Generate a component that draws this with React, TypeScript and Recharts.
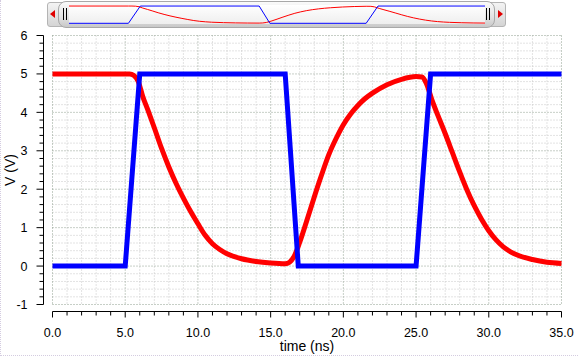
import React from 'react';
import { LineChart, Line, XAxis, YAxis, CartesianGrid } from 'recharts';

// red trace (output node)
const redTime = [0, 5.0, 5.3, 5.6, 5.9, 6.2, 6.6, 7.0, 7.5, 8.0, 8.5, 9.0, 9.5, 10.0, 10.5, 11.0, 11.5, 12.0, 13.0, 14.0, 15.0, 16.0, 16.3, 16.6, 17.0, 17.5, 18.0, 18.5, 19.0, 19.5, 20.0, 20.5, 21.0, 21.5, 22.0, 23.0, 24.0, 25.0, 25.4, 25.7, 26.1, 26.5, 27.0, 27.5, 28.0, 28.5, 29.0, 29.5, 30.0, 30.5, 31.0, 31.5, 32.0, 33.0, 34.0, 35.0];
const redVolts = [5.0, 5.0, 5.0, 4.96, 4.8, 4.42, 4.02, 3.6, 3.06, 2.58, 2.15, 1.77, 1.42, 1.1, 0.8, 0.58, 0.43, 0.32, 0.19, 0.12, 0.08, 0.06, 0.1, 0.24, 0.62, 1.2, 1.8, 2.37, 2.9, 3.32, 3.68, 3.96, 4.18, 4.36, 4.5, 4.72, 4.86, 4.93, 4.92, 4.76, 4.31, 3.92, 3.45, 2.95, 2.45, 1.98, 1.57, 1.22, 0.92, 0.68, 0.5, 0.37, 0.28, 0.17, 0.1, 0.07];

// blue trace (input pulse)
const blueTime = [0, 5.0, 6.0, 16.0, 16.9, 25.0, 26.0, 35.0];
const blueVolts = [0, 0, 5, 5, 0, 0, 5, 5];

const xMajor = [0, 5, 10, 15, 20, 25, 30, 35];
const yMajor = [-1, 0, 1, 2, 3, 4, 5, 6];

const xTicks: number[] = [];
for (let i = 0; i <= 35; i++) xTicks.push(i);
const yTicks: number[] = [];
for (let i = -10; i <= 60; i += 2) yTicks.push(i / 10);

const xMinor = xTicks.filter((v) => !xMajor.includes(v));
const yMinor = yTicks.filter((v) => !yMajor.includes(v));

const redData = redTime.map((t, i) => ({ t, v: redVolts[i] }));
const blueData = blueTime.map((t, i) => ({ t, v: blueVolts[i] }));

const FONT = '"Liberation Sans", Arial, sans-serif';

const YTick = ({ x, y, payload }: any) => {
  const v = payload.value;
  const major = yMajor.includes(v);
  const ax = x - 9;
  return (
    <g>
      <line x1={ax - (major ? 7 : 4)} x2={ax} y1={y} y2={y} stroke="#000" />
      {major && (
        <text x={ax - 16} y={y} dy="0.36em" textAnchor="end" fontSize={12.5} fontFamily={FONT} fill="#000">
          {v}
        </text>
      )}
    </g>
  );
};

const XTick = ({ x, y, payload }: any) => {
  const v = payload.value;
  const major = xMajor.includes(v);
  const ay = y + 7;
  return (
    <g>
      <line x1={x} x2={x} y1={ay} y2={ay + (major ? 6 : 4)} stroke="#000" />
      {major && (
        <text x={x} y={ay + 25} textAnchor="middle" fontSize={12.5} fontFamily={FONT} fill="#000">
          {v.toFixed(1)}
        </text>
      )}
    </g>
  );
};

function Navigator() {
  return (
    <div
      style={{
        position: 'absolute', left: 47, top: 2, width: 459, height: 25,
        background: 'linear-gradient(#f4f4f4, #d4d4d4)', border: '1px solid #b4b4b4',
        borderRadius: 3, boxSizing: 'border-box',
      }}
    >
      <div style={{ position: 'absolute', left: 2, top: 7, width: 0, height: 0, borderTop: '4px solid transparent', borderBottom: '4px solid transparent', borderRight: '5px solid #e00000' }} />
      <div style={{ position: 'absolute', right: 2, top: 7, width: 0, height: 0, borderTop: '4px solid transparent', borderBottom: '4px solid transparent', borderLeft: '5px solid #e00000' }} />
      <div
        style={{
          position: 'absolute', left: 10, top: -2, width: 437, height: 27,
          background: 'linear-gradient(#fafafa, #e2e2e2 60%, #c8c8c8)', border: '1px solid #a8a8a8',
          borderRadius: 8, boxSizing: 'border-box',
        }}
      >
        <div style={{ position: 'absolute', left: 4, top: 6, width: 1, height: 12, background: '#000', boxShadow: '3px 0 0 #000' }} />
        <div style={{ position: 'absolute', right: 7, top: 6, width: 1, height: 12, background: '#000', boxShadow: '3px 0 0 #000' }} />
        <div style={{ position: 'absolute', left: 10, top: 3, width: 416, height: 19, background: 'linear-gradient(#ffffff, #eeeeee)' }}>
          <LineChart width={416} height={19} margin={{ top: 0, right: 0, bottom: 0, left: 0 }}>
            <XAxis type="number" dataKey="t" domain={[0, 35]} hide />
            <YAxis type="number" domain={[-0.2, 5.3]} hide />
            <Line data={redData} dataKey="v" type="linear" stroke="#ff0000" strokeWidth={1} dot={false} isAnimationActive={false} />
            <Line data={blueData} dataKey="v" type="linear" stroke="#0000ff" strokeWidth={1} dot={false} isAnimationActive={false} />
          </LineChart>
        </div>
      </div>
    </div>
  );
}

export default function App() {
  return (
    <div
      style={{
        position: 'absolute', left: 0, top: 0, width: 578, height: 357, background: '#fff',
        overflow: 'hidden', fontFamily: FONT,
      }}
    >
      <div style={{ position: 'absolute', left: 0, top: 0, width: 577, height: 355, borderLeft: '1px dotted #d4cce0', borderBottom: '1px dotted #d4cce0' }} />
      <Navigator />
      <LineChart width={578} height={357} margin={{ top: 35.5, right: 16.5, bottom: 0, left: 0 }}>
        <CartesianGrid horizontalValues={yMinor} verticalValues={xMinor} stroke="#c6c6c6" strokeDasharray="1 2" />
        <CartesianGrid horizontalValues={yMajor} verticalValues={xMajor} stroke="#8e9e8e" strokeDasharray="1 2" />
        <XAxis
          type="number"
          dataKey="t"
          domain={[0, 35]}
          ticks={xTicks}
          interval={0}
          height={52.5}
          tickSize={0}
          tickMargin={0}
          tickLine={false}
          axisLine={{ stroke: '#000', transform: 'translate(0,7)' }}
          tick={<XTick />}
          label={{
            content: () => (
              <text x={307} y={351} textAnchor="middle" fontSize={14} fontFamily={FONT} fill="#000">
                time (ns)
              </text>
            ),
          }}
        />
        <YAxis
          type="number"
          domain={[-1, 6]}
          ticks={yTicks}
          interval={0}
          width={52.5}
          tickSize={0}
          tickMargin={0}
          tickLine={false}
          axisLine={{ stroke: '#000', transform: 'translate(-9,0)' }}
          tick={<YTick />}
          label={{
            content: () => (
              <text x={15} y={170} textAnchor="middle" fontSize={14} fontFamily={FONT} fill="#000" transform="rotate(-90 15 170)">
                V (V)
              </text>
            ),
          }}
        />
        <Line data={redData} dataKey="v" type="monotone" stroke="#ff0000" strokeWidth={5} dot={false} isAnimationActive={false} />
        <Line data={blueData} dataKey="v" type="linear" stroke="#0000ff" strokeWidth={5} dot={false} isAnimationActive={false} />
      </LineChart>
    </div>
  );
}
